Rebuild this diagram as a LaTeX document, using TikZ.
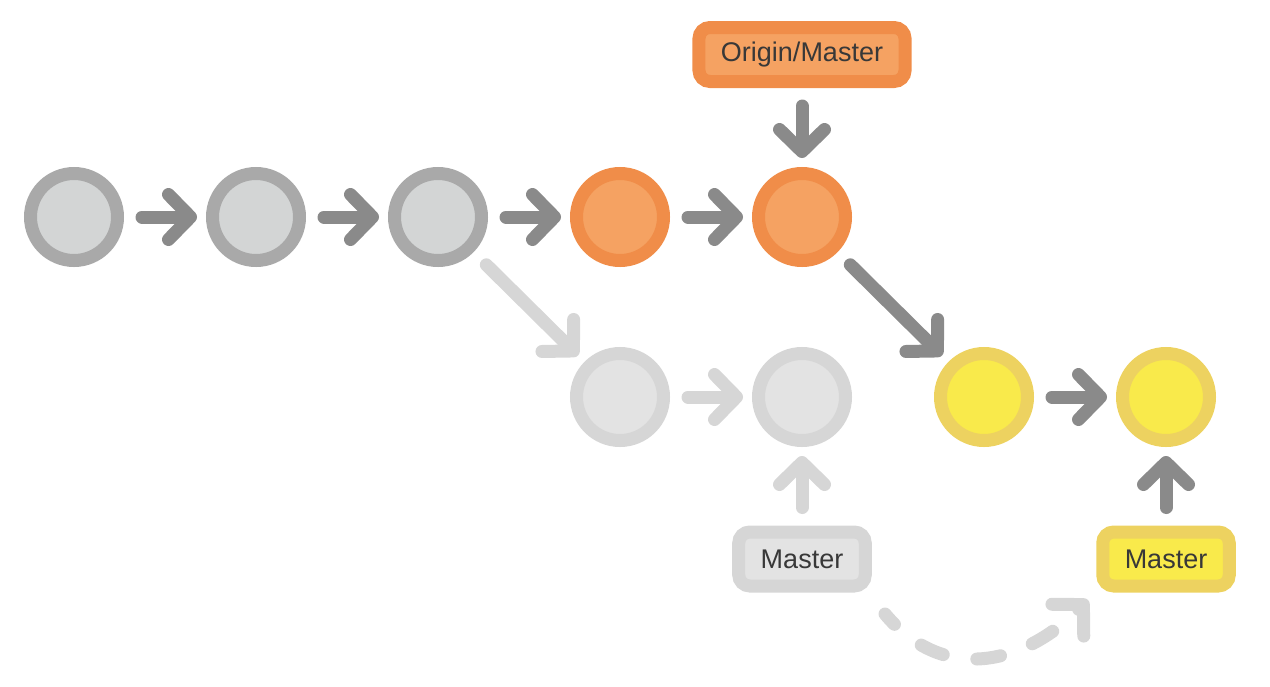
\documentclass[tikz,border=0pt]{standalone}
\usepackage{fontspec}
\setmainfont{Liberation Sans}
\usetikzlibrary{arrows.meta}
\definecolor{darkarrow}{HTML}{8A8A8A}
\definecolor{lightarrow}{HTML}{D6D6D6}
\definecolor{greyring}{HTML}{A9A9A9}
\definecolor{greyfill}{HTML}{D3D5D5}
\definecolor{orangering}{HTML}{F08D49}
\definecolor{orangefill}{HTML}{F5A262}
\definecolor{palering}{HTML}{D6D6D6}
\definecolor{palefill}{HTML}{E3E3E3}
\definecolor{yellowring}{HTML}{EDD260}
\definecolor{yellowfill}{HTML}{F9EA4B}
\definecolor{labeltext}{HTML}{383838}
\tikzset{
	commit/.style={circle, draw, line width=6.5pt, minimum size=43.5pt, inner sep=0pt, outer sep=3.25pt},
	greycommit/.style={commit, draw=greyring, fill=greyfill},
	orangecommit/.style={commit, draw=orangering, fill=orangefill},
	palecommit/.style={commit, draw=palering, fill=palefill},
	yellowcommit/.style={commit, draw=yellowring, fill=yellowfill},
	branch/.style={draw, rounded corners=5.5pt, line width=6.5pt, inner xsep=11pt, minimum height=27pt, outer sep=3.25pt, text=labeltext, font=\fontsize{13.5}{16}\selectfont},
	barb/.style={-{Straight Barb[length=11pt,width=22.5pt,line cap=round,line join=round]}},
	arr/.style={line width=6.5pt, line cap=round, barb, shorten <=9pt, shorten >=4.5pt},
}
\begin{document}
\begin{tikzpicture}[x=0.5pt,y=0.5pt]
			\useasboundingbox (0,0) rectangle (1270,-686);
			% main line
			\node[greycommit] (c1) at (74,-217) {};
			\node[greycommit] (c2) at (256,-217) {};
			\node[greycommit] (c3) at (438,-217) {};
			\node[orangecommit] (c4) at (620,-217) {};
			\node[orangecommit] (c5) at (802,-217) {};
			% old local commits
			\node[palecommit] (d1) at (620,-397) {};
			\node[palecommit] (d2) at (802,-397) {};
			% rebased commits
			\node[yellowcommit] (y1) at (984,-397) {};
			\node[yellowcommit] (y2) at (1166,-397) {};
			% branch labels
			\node[branch, draw=orangering, fill=orangefill] (om) at (802,-54.5) {Origin/Master};
			\node[branch, draw=palering, fill=palefill] (gm) at (802,-559) {Master};
			\node[branch, draw=yellowring, fill=yellowfill] (ym) at (1166,-559) {Master};
			\draw[arr, darkarrow] (c1) -- (c2);
			\draw[arr, darkarrow] (c2) -- (c3);
			\draw[arr, darkarrow] (c3) -- (c4);
			\draw[arr, darkarrow] (c4) -- (c5);
			\draw[arr, darkarrow] (om) -- (c5);
			\draw[arr, darkarrow] (c5) -- (y1);
			\draw[arr, darkarrow] (y1) -- (y2);
			\draw[arr, darkarrow] (ym) -- (y2);
			\draw[arr, lightarrow] (c3) -- (d1);
			\draw[arr, lightarrow] (d1) -- (d2);
			\draw[arr, lightarrow] (gm) -- (d2);
			% moved label
			\coordinate (mvfrom) at (885,-614);
			\coordinate (mvto) at (1088,-600);
			\draw[lightarrow, line width=6.5pt, line cap=round, dash pattern=on 12pt off 17pt, dash phase=5pt, barb] (mvfrom) to[out=-50, in=-135, looseness=1.15] (mvto);
\end{tikzpicture}
\end{document}
